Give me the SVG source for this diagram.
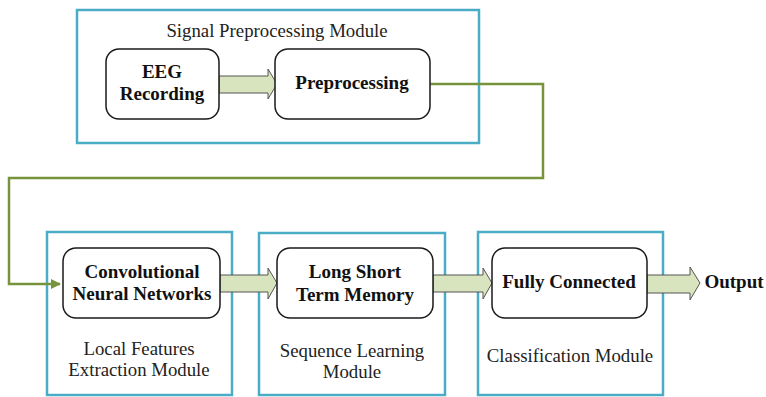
<svg xmlns="http://www.w3.org/2000/svg" width="766" height="397" viewBox="0 0 766 397">
<defs>
<style>
.mod{fill:none;stroke:#4BACC6;stroke-width:2.5}
.node{fill:#fff;stroke:#1a1a1a;stroke-width:1.5}
.blk{fill:#D7E4BD;stroke:#555;stroke-width:1}
.b{font-family:"Liberation Serif",serif;font-weight:bold;font-size:19px;fill:#111;text-anchor:middle}
.r{font-family:"Liberation Serif",serif;font-size:18.8px;fill:#222;text-anchor:middle}
.link{fill:none;stroke:#77933C;stroke-width:2.5}
</style>
<marker id="ah" viewBox="0 0 10 10" refX="9" refY="5" markerWidth="4" markerHeight="4" orient="auto" markerUnits="strokeWidth">
<path d="M0,0 L10,5 L0,10 z" fill="#77933C"/>
</marker>
</defs>
<rect width="766" height="397" fill="#fff"/>
<g id="mod-signal">
<rect class="mod" x="77" y="10" width="402" height="133"/>
<text class="r" x="277" y="37">Signal Preprocessing Module</text>
</g>
<g id="mod-local">
<rect class="mod" x="47" y="232" width="185" height="163"/>
<text class="r" x="139" y="355">Local Features</text>
<text class="r" x="139" y="376">Extraction Module</text>
</g>
<g id="mod-seq">
<rect class="mod" x="259" y="233" width="186" height="162"/>
<text class="r" x="352" y="357">Sequence Learning</text>
<text class="r" x="352" y="378">Module</text>
</g>
<g id="mod-class">
<rect class="mod" x="478" y="232" width="185" height="163"/>
<text class="r" x="570" y="362">Classification Module</text>
</g>
<g id="connectors">
<path class="link" d="M430,84 H543 V178 H9 V284 H60" marker-end="url(#ah)"/>
<path class="blk" d="M219,76 H268 V69 L277,84 L268,99 V93 H219 Z"/>
<path class="blk" d="M220,275 H268 V268 L277,283 L268,299 V292 H220 Z"/>
<path class="blk" d="M433,275 H483 V268 L492,283 L483,299 V292 H433 Z"/>
<path class="blk" d="M647,275 H690 V267 L700,283 L690,300 V293 H647 Z"/>
</g>
<g id="n-eeg">
<rect class="node" x="106" y="49" width="113" height="70" rx="13"/>
<text class="b" x="162" y="78">EEG</text>
<text class="b" x="162" y="100">Recording</text>
</g>
<g id="n-pre">
<rect class="node" x="275" y="49" width="155" height="70" rx="13"/>
<text class="b" x="352" y="89">Preprocessing</text>
</g>
<g id="n-cnn">
<rect class="node" x="63" y="248" width="157" height="70" rx="13"/>
<text class="b" x="142" y="278">Convolutional</text>
<text class="b" x="142" y="300">Neural Networks</text>
</g>
<g id="n-lstm">
<rect class="node" x="277" y="248" width="156" height="70" rx="13"/>
<text class="b" x="355" y="278">Long Short</text>
<text class="b" x="355" y="301">Term Memory</text>
</g>
<g id="n-fc">
<rect class="node" x="492" y="248" width="155" height="70" rx="13"/>
<text class="b" x="569" y="288">Fully Connected</text>
</g>
<g id="n-out">
<text class="b" x="734" y="288">Output</text>
</g>
</svg>
